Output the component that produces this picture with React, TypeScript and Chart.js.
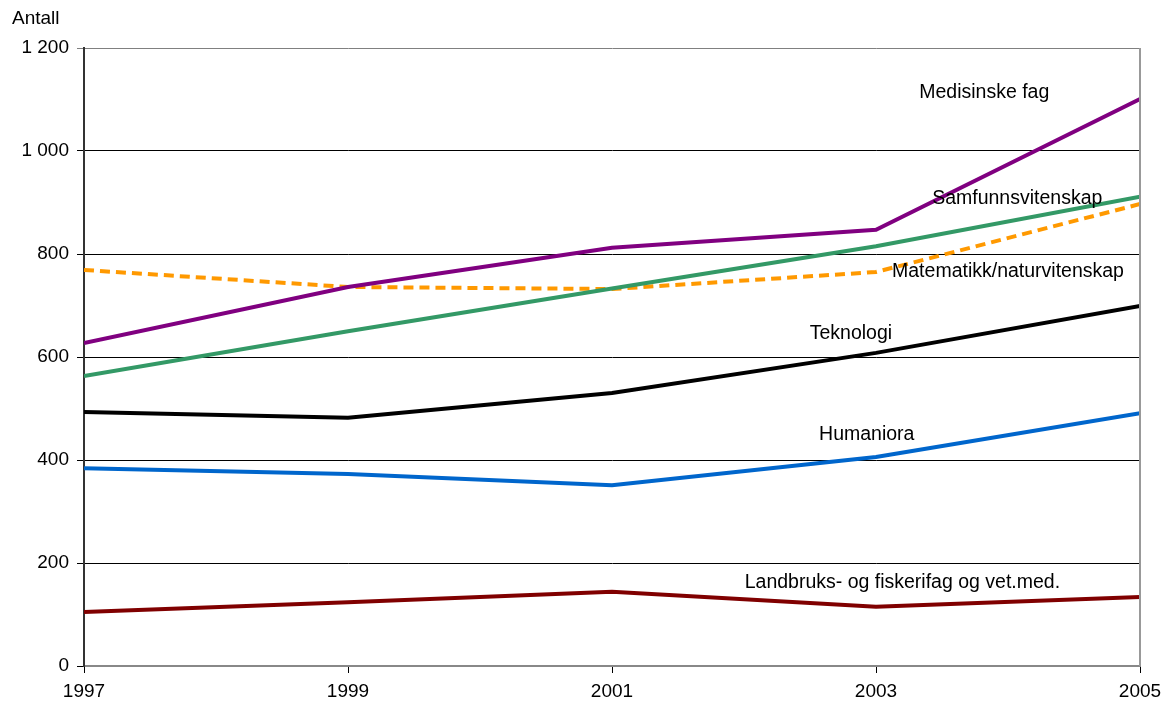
import React, { useEffect, useRef } from "react";
import { Chart, registerables } from "chart.js";

Chart.register(...registerables);

const years = [1997, 1999, 2001, 2003, 2005];
const medisinske = [627, 736, 812, 847, 1101];
const samfunn = [563, 650, 733, 815, 911];
const matnat = [769, 736, 732, 765, 897];
const teknologi = [493, 482, 530, 608, 699];
const humaniora = [384, 373, 351, 406, 491];
const landbruk = [105, 124, 144, 115, 134];

const seriesNames = [
  "Medisinske fag",
  "Samfunnsvitenskap",
  "Matematikk/naturvitenskap",
  "Teknologi",
  "Humaniora",
  "Landbruks- og fiskerifag og vet.med.",
];
// label anchors in data units (year, value)
const labelYears = [2003.82, 2004.07, 2004.0, 2002.81, 2002.93, 2003.2];
const labelValues = [1113, 907, 765, 645, 450, 161];

const yTicks = [0, 200, 400, 600, 800, 1000, 1200];
const axisTitle = "Antall";

const FONT = "'Liberation Sans', Arial, sans-serif";

const fmt = (v: number) => String(v).replace(/\B(?=(\d{3})+(?!\d))/g, " ");

const toPts = (vals: number[]) => vals.map((y, i) => ({ x: years[i], y }));

export default function App() {
  const ref = useRef<HTMLCanvasElement | null>(null);
  useEffect(() => {
    if (!ref.current) return;
    const labelsPlugin = {
      id: "labelsPlugin",
      afterDatasetsDraw(chart: any) {
        const { ctx, scales, chartArea } = chart;
        ctx.save();
        // right border
        ctx.strokeStyle = "#999";
        ctx.lineWidth = 2;
        ctx.beginPath();
        ctx.moveTo(chartArea.right, chartArea.top);
        ctx.lineTo(chartArea.right, chartArea.bottom);
        ctx.stroke();
        ctx.fillStyle = "#000";
        ctx.font = `19.5px ${FONT}`;
        ctx.textAlign = "center";
        ctx.textBaseline = "middle";
        seriesNames.forEach((n, i) => {
          const x = scales.x.getPixelForValue(labelYears[i]);
          const y = scales.y.getPixelForValue(labelValues[i]);
          ctx.fillText(n, x, y);
        });
        ctx.font = `19px ${FONT}`;
        ctx.textAlign = "left";
        ctx.fillText(axisTitle, 12, 19);
        ctx.restore();
      },
    };
    const chart = new Chart(ref.current, {
      type: "line",
      data: {
        datasets: [
          { label: seriesNames[0], data: toPts(medisinske), borderColor: "#800080" },
          { label: seriesNames[1], data: toPts(samfunn), borderColor: "#339966" },
          { label: seriesNames[2], data: toPts(matnat), borderColor: "#FF9900", borderDash: [10, 6] },
          { label: seriesNames[3], data: toPts(teknologi), borderColor: "#000000" },
          { label: seriesNames[4], data: toPts(humaniora), borderColor: "#0066CC" },
          { label: seriesNames[5], data: toPts(landbruk), borderColor: "#800000" },
        ].map((d) => ({ ...d, borderWidth: 4, pointRadius: 0, fill: false, tension: 0 })),
      },
      options: {
        animation: false,
        responsive: true,
        maintainAspectRatio: false,
        layout: { padding: { top: 48, right: 22, left: 0, bottom: 0 } },
        plugins: { legend: { display: false }, tooltip: { enabled: false } },
        scales: {
          x: {
            type: "linear",
            min: 1997,
            max: 2005,
            afterFit: (s: any) => {
              s.height = 35;
              s.paddingLeft = 0;
              s.paddingRight = 0;
            },
            afterBuildTicks: (s: any) => { s.ticks = years.map((v) => ({ value: v })); },
            ticks: {
              callback: (v: any) => String(v),
              color: "#000",
              font: { family: FONT, size: 19 },
              padding: 7,
              maxRotation: 0,
            },
            grid: { drawOnChartArea: false, drawTicks: true, tickLength: 7, color: "#000" },
            border: { color: "#888", width: 2 },
          },
          y: {
            min: 0,
            max: 1200,
            afterFit: (s: any) => {
              s.width = 84;
              s.paddingTop = 0;
              s.paddingBottom = 0;
            },
            afterBuildTicks: (s: any) => { s.ticks = yTicks.map((v) => ({ value: v })); },
            ticks: {
              callback: (v: any) => fmt(Number(v)),
              color: "#000",
              font: { family: FONT, size: 19 },
              padding: 8,
            },
            grid: {
              color: (c: any) => (c.tick && c.tick.value === 1200 ? "#808080" : "#000"),
              lineWidth: 1,
              tickLength: 7,
            },
            border: { color: "#333", width: 2 },
          },
        },
      },
      plugins: [labelsPlugin],
    } as any);
    return () => chart.destroy();
  }, []);
  return (
    <div style={{ position: "fixed", left: 0, top: 0, width: 1162, height: 701, background: "#fff" }}>
      <canvas ref={ref} />
    </div>
  );
}
